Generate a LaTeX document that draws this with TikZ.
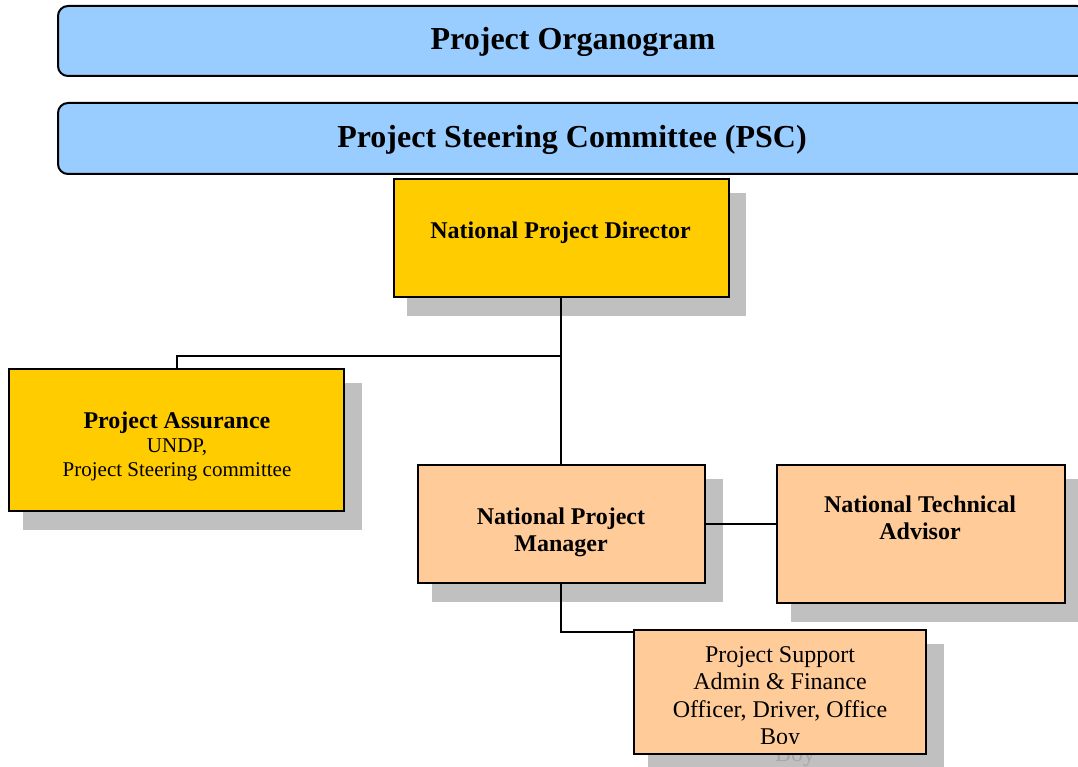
\documentclass[tikz,border=0pt]{standalone}
\usepackage{fontspec}
\setmainfont{Liberation Serif}
\definecolor{skyblue}{HTML}{99CCFF}
\definecolor{goldbox}{HTML}{FFCC00}
\definecolor{peach}{HTML}{FFCC99}
\definecolor{shadowgray}{HTML}{C0C0C0}
\definecolor{ghostgray}{HTML}{A8A8A8}
\newcommand{\stack}[1]{\begin{tabular}[t]{@{}c@{}}#1\end{tabular}}
\begin{document}
\begin{tikzpicture}[x=1pt,y=-1pt,
  banner/.style={rectangle, draw=black, line width=2pt, fill=skyblue,
                 rounded corners=10pt, inner sep=0pt},
  card/.style={rectangle, draw=black, line width=2pt, inner sep=0pt},
  shadowbox/.style={fill=shadowgray},
  wire/.style={draw=black, line width=2pt},
  lbl/.style={anchor=base, inner sep=0pt},
  big/.style={font=\fontsize{32}{36.8}\selectfont\bfseries},
  mid/.style={font=\fontsize{24}{27.6}\selectfont},
  small/.style={font=\fontsize{21}{24.2}\selectfont}
]
\useasboundingbox (0,0) rectangle (1078,767);
\clip (0,0) rectangle (1078,767);

% drop shadows behind the boxes
\fill[shadowbox] (407,193) rectangle (746,316);
\fill[shadowbox] (23,383) rectangle (362,530);
\fill[shadowbox] (432,479) rectangle (723,602);
\fill[shadowbox] (791,479) rectangle (1083,622);
\fill[shadowbox] (648,644) rectangle (944,773);

% shadow of the overflowing last support line, seen below the box
\begin{scope}
  \clip (640,755) rectangle (960,767);
  \node[lbl, mid, text=ghostgray] (ps-ghost) at (795,761) {Boy};
\end{scope}

% header banners
\node[banner, minimum width=1029pt, minimum height=70pt] (title) at (572.5,41) {};
\node[banner, minimum width=1029pt, minimum height=71pt] (psc) at (572.5,138.5) {};
\node[lbl, big] (title-t) at (573,49.5) {Project Organogram};
\node[lbl, big] (psc-t) at (572,147.5) {Project Steering Committee (PSC)};

% boxes
\node[card, fill=goldbox, minimum width=335pt, minimum height=118pt] (npd) at (561,238) {};
\node[card, fill=goldbox, minimum width=335pt, minimum height=142pt] (pa) at (176.5,440) {};
\node[card, fill=peach, minimum width=287pt, minimum height=118pt] (npm) at (561,524) {};
\node[card, fill=peach, minimum width=288pt, minimum height=138pt] (nta) at (921,534) {};
\node[card, fill=peach, minimum width=292pt, minimum height=124pt] (ps) at (780,692) {};

% connectors
\coordinate (j1) at (561,356);
\coordinate (j2) at (561,632);
\draw[wire] (npd.south) -- (npm.north);
\draw[wire] (j1) -| (pa.north);
\draw[wire] (npm.east) -- (npm.east -| nta.west);
\draw[wire] (npm.south) -- (j2) -- (j2 -| ps.west);

% labels
\node[lbl, font=\fontsize{24}{27.6}\selectfont\bfseries] (npd-t) at (560.5,239)
  {National Project Director};
\node[lbl, small] (pa-t) at (177,428)
  {\stack{\fontsize{24}{27.6}\selectfont\bfseries Project Assurance\\UNDP,\\Project Steering committee}};
\node[lbl, font=\fontsize{24}{27.6}\selectfont\bfseries] (npm-t) at (561,524)
  {\stack{National Project\\Manager}};
\node[lbl, font=\fontsize{24}{27.6}\selectfont\bfseries] (nta-t) at (920,512)
  {\stack{National Technical\\Advisor}};
\begin{scope}
  \clip (634,630) rectangle (926,743);
  \node[lbl, mid] (ps-t) at (780,662)
    {\stack{Project Support\\Admin \& Finance\\Officer, Driver, Office\\Boy}};
\end{scope}
\end{tikzpicture}
\end{document}
